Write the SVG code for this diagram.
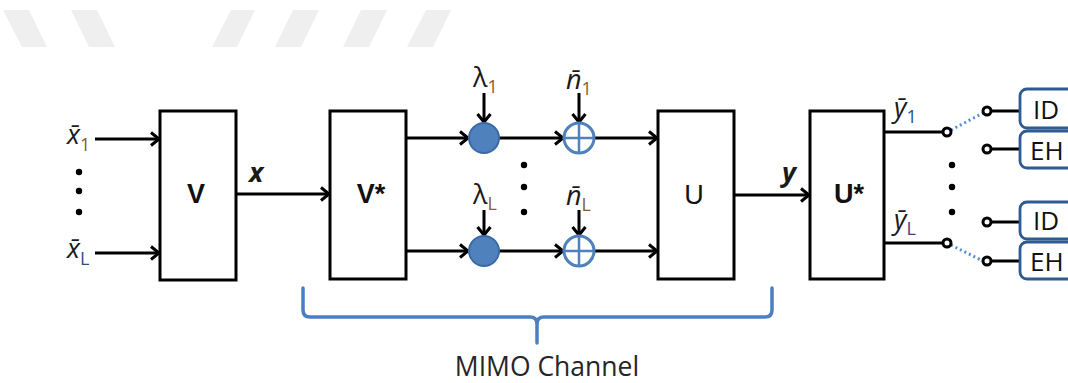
<svg xmlns="http://www.w3.org/2000/svg" width="1068" height="383" viewBox="0 0 1068 383">
<style>
.box{fill:#fff;stroke:#000;stroke-width:3}
.lbl{font-family:"Liberation Sans",Arial,sans-serif;font-size:27px;fill:#111;text-anchor:middle}
.b{font-weight:bold}
.sym{font-family:"Open Sans","Noto Sans",sans-serif;font-size:27px;fill:#1a1a1a;font-style:italic}
.sub{font-style:normal;font-size:18px}
.so{fill:#8a5a2a}
.sb{fill:#2a4f85}
.sp{fill:#4a3a85}
.conn{fill:none;stroke:#000;stroke-width:3}
.arr{marker-end:url(#ah)}
.dot{fill:#000}
.sw{fill:#fff;stroke:#000;stroke-width:3}
.out{fill:#fff;stroke:#2e5b91;stroke-width:2.8}
.otxt{font-family:"Open Sans","Noto Sans",sans-serif;font-size:26px;fill:#111}
.wm{fill:#efefef}
</style>
<defs>
<marker id="ah" markerUnits="userSpaceOnUse" markerWidth="16" markerHeight="16" refX="12" refY="8" orient="auto">
<path d="M4,1.5 L12,8 L4,14.5" fill="none" stroke="#000" stroke-width="3"/>
</marker>
</defs>
<rect width="1068" height="383" fill="#fff"/>
<g id="watermark">
<polygon class="wm" points="3,10 29,10 47,47 22,47"/>
<polygon class="wm" points="71,10 97,10 115,47 89,47"/>
<polygon class="wm" points="231,10 255,10 237,47 212,47"/>
<polygon class="wm" points="293,10 319,10 301,47 275,47"/>
<polygon class="wm" points="361,10 387,10 369,47 343,47"/>
<polygon class="wm" points="426,10 451,10 433,47 407,47"/>
</g>
<g id="connectors">
<path class="conn arr" d="M95,139 H159"/>
<path class="conn arr" d="M95,253 H159"/>
<path class="conn arr" d="M237,194 H329"/>
<path class="conn arr" d="M406,138 H468"/>
<path class="conn arr" d="M406,251 H468"/>
<path class="conn arr" d="M499,138 H563"/>
<path class="conn arr" d="M499,251 H563"/>
<path class="conn arr" d="M594,138 H657"/>
<path class="conn arr" d="M594,251 H657"/>
<path class="conn arr" d="M484,93 V122"/>
<path class="conn arr" d="M484,210 V235"/>
<path class="conn arr" d="M579,93 V122"/>
<path class="conn arr" d="M579,210 V235"/>
<path class="conn arr" d="M735,195 H809"/>
<path class="conn" d="M884,132 H943"/>
<path class="conn" d="M884,243 H943"/>
<path d="M951,130 L983,113" fill="none" stroke="#5b8fd0" stroke-width="3" stroke-dasharray="2 3"/>
<path d="M951,245 L983,261" fill="none" stroke="#5b8fd0" stroke-width="3" stroke-dasharray="2 3"/>
<path class="conn" d="M991,111 H1020"/>
<path class="conn" d="M991,149 H1020"/>
<path class="conn" d="M991,222 H1020"/>
<path class="conn" d="M991,261 H1020"/>
</g>
<g id="inputs">
<text class="sym" x="67" y="144">x̄<tspan class="sub so" dy="7">1</tspan></text>
<text class="sym" x="67" y="258">x̄<tspan class="sub sb" dy="7">L</tspan></text>
<circle class="dot" cx="79" cy="172" r="3.2"/>
<circle class="dot" cx="79" cy="191" r="3.2"/>
<circle class="dot" cx="79" cy="212" r="3.2"/>
</g>
<g id="V"><rect class="box" x="160" y="111" width="76" height="169"/><text class="lbl b" x="196" y="203">V</text></g>
<text class="sym" x="249" y="182" style="font-weight:bold">x</text>
<g id="Vstar"><rect class="box" x="330" y="111" width="76" height="168"/><text class="lbl b" x="371" y="203">V*</text></g>
<g id="lambda1"><circle cx="484" cy="138" r="15" fill="#4f81bd" stroke="#3a6aa5" stroke-width="2"/><text class="sym" style="font-style:normal" x="473" y="87">λ<tspan class="sub so" dy="6">1</tspan></text></g>
<g id="lambdaL"><circle cx="484" cy="251" r="15" fill="#4f81bd" stroke="#3a6aa5" stroke-width="2"/><text class="sym" style="font-style:normal" x="473" y="204">λ<tspan class="sub so" dy="6">L</tspan></text></g>
<g id="noise1"><circle cx="579" cy="138" r="15" fill="#fff" stroke="#4f81bd" stroke-width="3"/><path d="M564,138 H594 M579,123 V153" stroke="#4f81bd" stroke-width="2.5"/><text class="sym" x="566" y="89">n̄<tspan class="sub so" dy="6">1</tspan></text></g>
<g id="noiseL"><circle cx="579" cy="251" r="15" fill="#fff" stroke="#4f81bd" stroke-width="3"/><path d="M564,251 H594 M579,236 V266" stroke="#4f81bd" stroke-width="2.5"/><text class="sym" x="566" y="205">n̄<tspan class="sub so" dy="6">L</tspan></text></g>
<g id="middots">
<circle class="dot" cx="524" cy="165" r="3.2"/>
<circle class="dot" cx="524" cy="187" r="3.2"/>
<circle class="dot" cx="524" cy="212" r="3.2"/>
</g>
<g id="U"><rect class="box" x="658" y="111" width="76" height="168"/><text class="lbl" x="694" y="204">U</text></g>
<text class="sym" x="782" y="182" style="font-weight:bold">y</text>
<g id="Ustar"><rect class="box" x="810" y="111" width="74" height="168"/><text class="lbl b" x="849" y="203">U*</text></g>
<g id="outputs">
<text class="sym" x="894" y="117">ȳ<tspan class="sub sb" dy="6">1</tspan></text>
<text class="sym" x="894" y="229">ȳ<tspan class="sub sp" dy="6">L</tspan></text>
<circle class="sw" cx="947" cy="132" r="4"/>
<circle class="sw" cx="947" cy="243" r="4"/>
<circle class="dot" cx="952" cy="165" r="3.2"/>
<circle class="dot" cx="952" cy="187" r="3.2"/>
<circle class="dot" cx="952" cy="212" r="3.2"/>
</g>
<g id="ID1"><circle class="sw" cx="987" cy="111" r="4"/><rect class="out" x="1020" y="89" width="70" height="39" rx="7"/><text class="otxt" x="1033" y="119">ID</text></g>
<g id="EH1"><circle class="sw" cx="987" cy="149" r="4"/><rect class="out" x="1020" y="131" width="70" height="37" rx="7"/><text class="otxt" x="1030" y="160">EH</text></g>
<g id="ID2"><circle class="sw" cx="987" cy="222" r="4"/><rect class="out" x="1020" y="202" width="70" height="37" rx="7"/><text class="otxt" x="1033" y="230">ID</text></g>
<g id="EH2"><circle class="sw" cx="987" cy="261" r="4"/><rect class="out" x="1020" y="242" width="70" height="37" rx="7"/><text class="otxt" x="1030" y="271">EH</text></g>
<g id="mimo">
<path d="M303,288 V310 Q303,317 310,317 H530 Q537,317 537,324 V343 M537,324 Q537,317 544,317 H765 Q772,317 772,310 V288" fill="none" stroke="#4a7fc1" stroke-width="3.5" stroke-linecap="round"/>
<text x="547" y="376" text-anchor="middle" style="font-family:'Open Sans','Noto Sans',sans-serif;font-size:26.5px;fill:#262626">MIMO Channel</text>
</g>
</svg>
